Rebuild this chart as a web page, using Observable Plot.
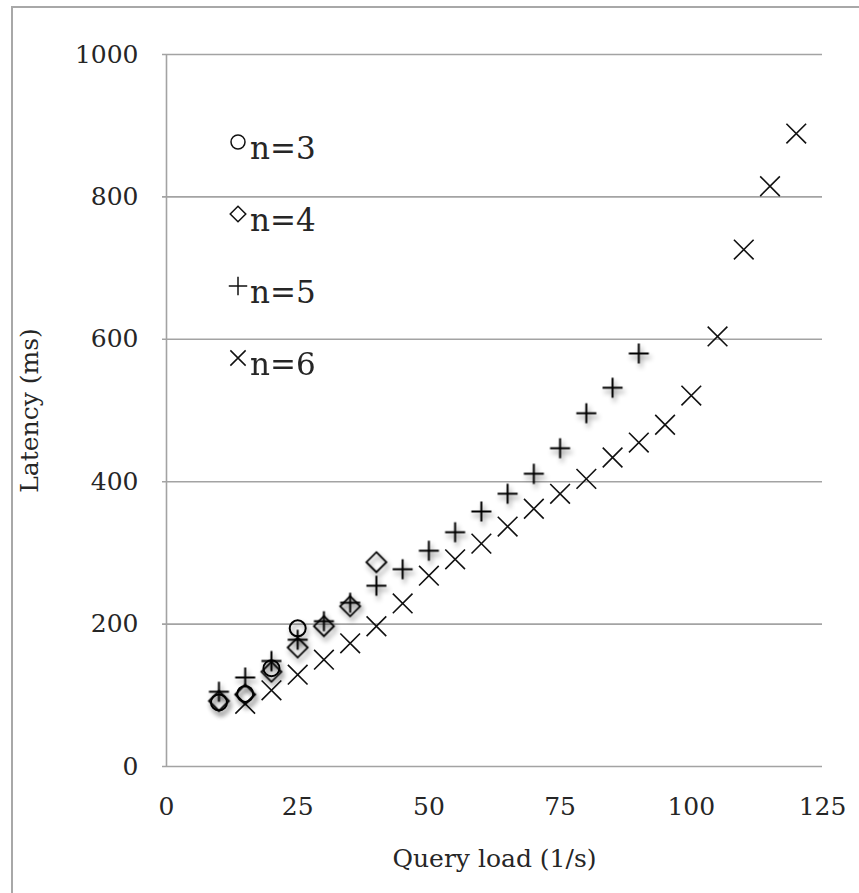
<!DOCTYPE html>
<html><head><meta charset="utf-8">
<script src="https://cdn.jsdelivr.net/npm/d3@7"></script>
<script src="https://cdn.jsdelivr.net/npm/@observablehq/plot@0.6"></script>
<style>
body{margin:0;background:#fff;}
#wrap{position:relative;width:859px;height:893px;overflow:hidden;font-family:"DejaVu Serif",serif;}
#frame{position:absolute;left:11px;top:6px;width:900px;height:950px;border:2px solid #a8a8a8;}
#chart{position:absolute;left:0;top:0;}
#legend{position:absolute;left:226px;top:126px;color:#262626;font-size:31px;}
.row{position:absolute;left:0;height:36px;white-space:nowrap;}
.row svg{position:absolute;left:0;top:0;}
.row span{position:absolute;left:24px;top:4px;line-height:36px;}
</style></head><body>
<div id="wrap"><div id="frame"></div><div id="chart"></div><div id="legend"></div></div>
<script>
const xTicks = [0, 25, 50, 75, 100, 125];
const yTicks = [0, 200, 400, 600, 800, 1000];
const seriesNames = ["n=3", "n=4", "n=5", "n=6"];

const loadN3 = [10, 15, 20, 25];
const latN3  = [90, 102, 138, 194];

const loadN4 = [10, 15, 20, 25, 30, 35, 40];
const latN4  = [92, 101, 133, 167, 197, 225, 287];

const loadN5 = [10, 15, 20, 25, 30, 35, 40, 45, 50, 55, 60, 65, 70, 75, 80, 85, 90];
const latN5  = [105, 125, 148, 178, 204, 230, 254, 277, 303, 329, 358, 383, 411, 447, 496, 532, 580];

const loadN6 = [15, 20, 25, 30, 35, 40, 45, 50, 55, 60, 65, 70, 75, 80, 85, 90, 95, 100, 105, 110, 115, 120];
const latN6  = [88, 107, 129, 150, 173, 197, 229, 268, 291, 313, 337, 362, 383, 404, 434, 455, 480, 521, 604, 726, 815, 889];

const toRows = (xs, ys) => xs.map((x, i) => ({x, y: ys[i]}));
const grid = "#a3a3a3";
const fmt = d => String(d);

const chart = Plot.plot({
  width: 859, height: 893,
  marginLeft: 166, marginRight: 37, marginTop: 54, marginBottom: 127,
  x: {domain: [0, 125]},
  y: {domain: [0, 1000]},
  style: {fontFamily: "DejaVu Serif", fontSize: "25px", color: "#262626", background: "transparent", overflow: "visible"},
  marks: [
    Plot.ruleY(yTicks, {stroke: grid, strokeWidth: 1.6, insetLeft: -4}),
    Plot.ruleX([0], {stroke: grid, strokeWidth: 1.6}),
    Plot.axisY(yTicks, {tickSize: 0, tickPadding: 28, fontSize: 25, tickFormat: fmt, label: "Latency (ms)", labelArrow: "none", labelAnchor: "center", labelOffset: 146}),
    Plot.axisX(xTicks, {tickSize: 0, tickPadding: 31, fontSize: 25, tickFormat: fmt, label: "Query load (1/s)", labelArrow: "none", labelAnchor: "center", labelOffset: 100}),
    Plot.dot(toRows(loadN6, latN6), {x: "x", y: "y", symbol: "times", r: 9, stroke: "#111", strokeWidth: 1.6, fill: "none"}),
    Plot.dot(toRows(loadN5, latN5), {x: "x", y: "y", symbol: "plus", r: 6.5, stroke: "#000", strokeWidth: 2, fill: "none"}),
    Plot.dot(toRows(loadN4, latN4), {x: "x", y: "y", symbol: "diamond2", r: 9, stroke: "#000", strokeWidth: 1.8, fill: "none"}),
    Plot.dot(toRows(loadN3, latN3), {x: "x", y: "y", symbol: "circle", r: 8, stroke: "#000", strokeWidth: 2, fill: "none"})
  ]
});

// drop shadow for n=3..5 markers
const svg = d3.select(chart);
const defs = svg.insert("defs", ":first-child");
const f = defs.append("filter").attr("id", "shadow").attr("x", "-50%").attr("y", "-50%").attr("width", "200%").attr("height", "200%");
f.append("feDropShadow").attr("dx", 2).attr("dy", 4).attr("stdDeviation", 2.5).attr("flood-color", "#000").attr("flood-opacity", 0.45);
const dotGroups = svg.selectAll("g[aria-label='dot']").nodes();
dotGroups.slice(1).forEach(g => g.setAttribute("filter", "url(#shadow)"));

document.getElementById("chart").appendChild(chart);

// legend
const symbols = [d3.symbolCircle, d3.symbolDiamond2, d3.symbolPlus, d3.symbolTimes];
const radii = [7, 7, 6, 7];
const legend = d3.select("#legend");
seriesNames.forEach((name, i) => {
  const row = legend.append("div").attr("class", "row").style("top", (i * 72) + "px");
  const s = row.append("svg").attr("width", 24).attr("height", 36);
  s.append("path").attr("transform", "translate(12,16)")
    .attr("d", d3.symbol(symbols[i], Math.PI * radii[i] * radii[i])())
    .attr("fill", "none").attr("stroke", "#111").attr("stroke-width", 1.5);
  row.append("span").text(name);
});
</script>
</body></html>
